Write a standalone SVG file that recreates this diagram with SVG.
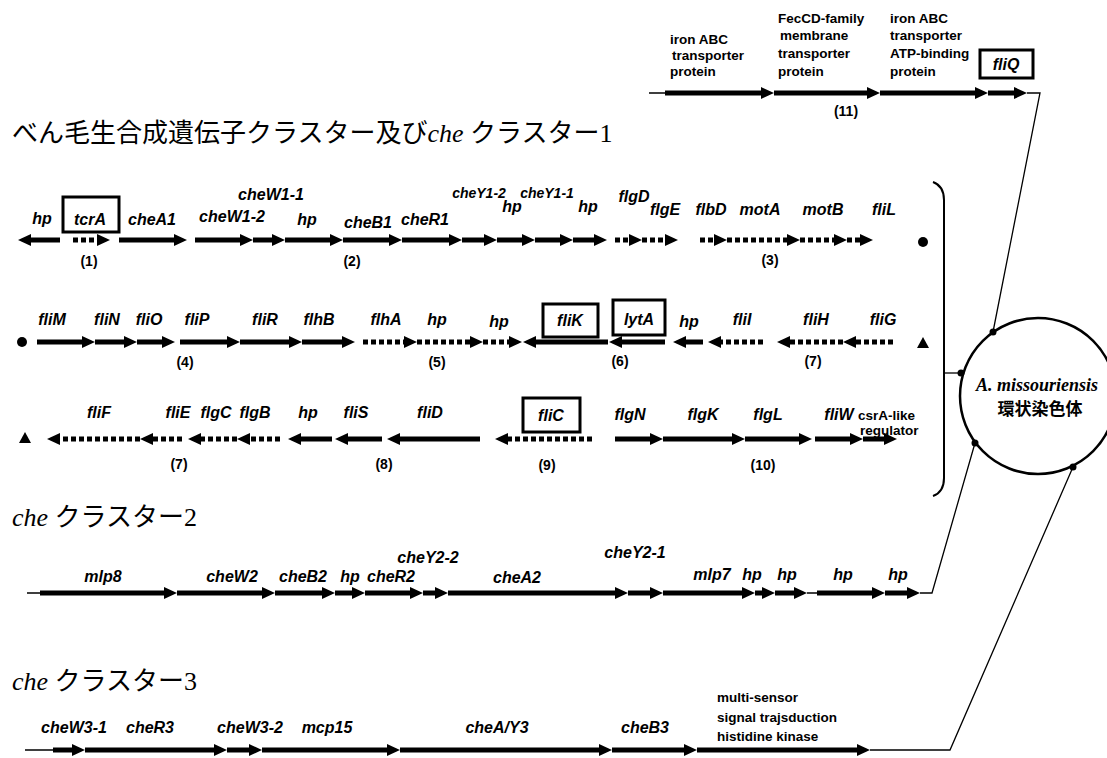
<svg xmlns="http://www.w3.org/2000/svg" width="1107" height="758" viewBox="0 0 1107 758">
<defs>
<marker id="h" markerUnits="userSpaceOnUse" markerWidth="13" markerHeight="12" refX="5" refY="6" orient="auto"><path d="M0,0 L13,6 L0,12 z" fill="#000"/></marker>
<style>
.s{stroke:#000;stroke-width:5;fill:none;marker-end:url(#h)}
.d{stroke-dasharray:5 3}
.t{stroke:#000;stroke-width:1.3;fill:none}
.c{stroke:#000;stroke-width:1.3;fill:none}
.g{font-family:"Liberation Sans",Arial,sans-serif;font-weight:bold;font-style:italic;font-size:16px;text-anchor:middle;fill:#000}
.sm{font-size:14px}
.n{font-family:"Liberation Sans",Arial,sans-serif;font-weight:bold;font-size:14px;text-anchor:middle;fill:#000}
.p{font-family:"Liberation Sans",Arial,sans-serif;font-weight:bold;font-size:13.5px;fill:#000}
.box{fill:#fff;stroke:#000;stroke-width:3}
.ti{font-family:"Liberation Serif","Noto Sans CJK JP",serif;font-size:26px;fill:#000}
.dot{fill:#000}
</style>
</defs>
<rect width="1107" height="758" fill="#fff"/>

<g id="titles">
<text class="ti" x="12" y="142">べん毛生合成遺伝子クラスター及び<tspan font-style="italic">che</tspan> クラスター1</text>
<text class="ti" x="12" y="526"><tspan font-style="italic">che</tspan> クラスター2</text>
<text class="ti" x="12" y="690"><tspan font-style="italic">che</tspan> クラスター3</text>
</g>

<g id="connectors">
<path class="t" d="M649,93 H665 M1027,93 H1040 L993,332"/>
<path d="M933,182 Q944,186 944,200 V478 Q944,492 933,496" fill="none" stroke="#000" stroke-width="2"/>
<path class="c" d="M944,373 H961"/>
<path class="t" d="M27,593 H40 M807,593 H817 M920,593 H932 L975,443"/>
<path class="t" d="M25,750 H53 M870,750 H950 L1073,467"/>
<circle class="dot" cx="993" cy="332" r="3.5"/>
<circle class="dot" cx="961" cy="373" r="3.5"/>
<circle class="dot" cx="975" cy="443" r="3.5"/>
<circle class="dot" cx="1073" cy="467" r="3.5"/>
</g>

<g id="chromosome">
<circle cx="1038" cy="396" r="78" fill="none" stroke="#000" stroke-width="2.5"/>
<text x="1037" y="391" font-family="Liberation Serif,serif" font-weight="bold" font-style="italic" font-size="18" text-anchor="middle">A. missouriensis</text>
<text x="1040" y="415" font-family="Noto Sans CJK JP,sans-serif" font-weight="bold" font-size="17" text-anchor="middle">環状染色体</text>
</g>

<g id="cluster11">
<g id="gene-ironABC1"><path class="s" d="M665,93 H766"/>
<text class="p" x="670" y="44">iron ABC</text><text class="p" x="672" y="60">transporter</text><text class="p" x="670" y="76">protein</text></g>
<g id="gene-fecCD"><path class="s" d="M774,93 H872"/>
<text class="p" x="778" y="23">FecCD-family</text><text class="p" x="780" y="40">membrane</text><text class="p" x="778" y="58">transporter</text><text class="p" x="778" y="76">protein</text></g>
<g id="gene-ironABC2"><path class="s" d="M880,93 H980"/>
<text class="p" x="890" y="23">iron ABC</text><text class="p" x="890" y="40">transporter</text><text class="p" x="890" y="58">ATP-binding</text><text class="p" x="890" y="76">protein</text></g>
<g id="gene-fliQ"><path class="s" d="M988,93 H1019"/><rect class="box" x="980" y="50" width="53" height="28"/><text class="g" x="1006" y="70">fliQ</text></g>
<text class="n" x="846" y="116">(11)</text>
</g>

<g id="row1">
<g id="gene-hp1"><path class="s" d="M60,240 H26"/><text class="g" x="42" y="224">hp</text></g>
<g id="gene-tcrA"><path class="s d" d="M73,240 H102"/><rect class="box" x="63" y="197" width="56" height="35"/><text class="g" x="90" y="225">tcrA</text></g>
<g id="gene-cheA1"><path class="s" d="M119,240 H179"/><text class="g" x="152" y="225">cheA1</text></g>
<g id="gene-cheW1-2"><path class="s" d="M195,240 H245"/><text class="g" x="232" y="222">cheW1-2</text></g>
<g id="gene-cheW1-1"><path class="s" d="M253,240 H277"/><text class="g" x="271" y="200">cheW1-1</text></g>
<g id="gene-hp2"><path class="s" d="M285,240 H335"/><text class="g" x="307" y="225">hp</text></g>
<g id="gene-cheB1"><path class="s" d="M343,240 H394"/><text class="g" x="368" y="228">cheB1</text></g>
<g id="gene-cheR1"><path class="s" d="M402,240 H454"/><text class="g" x="425" y="225">cheR1</text></g>
<g id="gene-cheY1-2"><path class="s" d="M462,240 H489"/><text class="g sm" x="479" y="198">cheY1-2</text></g>
<g id="gene-hp3"><path class="s" d="M497,240 H527"/><text class="g" x="512" y="212">hp</text></g>
<g id="gene-cheY1-1"><path class="s" d="M535,240 H565"/><text class="g sm" x="547" y="198">cheY1-1</text></g>
<g id="gene-hp4"><path class="s" d="M573,240 H599"/><text class="g" x="588" y="212">hp</text></g>
<g id="gene-flgD"><path class="s d" d="M615,240 H634"/><text class="g" x="634" y="202">flgD</text></g>
<g id="gene-flgE"><path class="s d" d="M642,240 H670"/><text class="g" x="665" y="215">flgE</text></g>
<g id="gene-flbD"><path class="s d" d="M700,240 H719"/><text class="g" x="711" y="215">flbD</text></g>
<g id="gene-motA"><path class="s d" d="M727,240 H792"/><text class="g" x="760" y="215">motA</text></g>
<g id="gene-motB"><path class="s d" d="M800,240 H839"/><text class="g" x="823" y="215">motB</text></g>
<g id="gene-fliL"><path class="s d" d="M847,240 H865"/><text class="g" x="884" y="215">fliL</text></g>
<circle class="dot" cx="923" cy="242" r="5"/>
<text class="n" x="89" y="266">(1)</text><text class="n" x="352" y="266">(2)</text><text class="n" x="770" y="265">(3)</text>
</g>

<g id="row2">
<circle class="dot" cx="22" cy="342" r="5"/>
<g id="gene-fliM"><path class="s" d="M37,342 H87"/><text class="g" x="52" y="325">fliM</text></g>
<g id="gene-fliN"><path class="s" d="M95,342 H129"/><text class="g" x="107" y="325">fliN</text></g>
<g id="gene-fliO"><path class="s" d="M137,342 H167"/><text class="g" x="149" y="325">fliO</text></g>
<g id="gene-fliP"><path class="s" d="M180,342 H232"/><text class="g" x="197" y="325">fliP</text></g>
<g id="gene-fliR"><path class="s" d="M240,342 H294"/><text class="g" x="265" y="325">fliR</text></g>
<g id="gene-flhB"><path class="s" d="M302,342 H347"/><text class="g" x="319" y="325">flhB</text></g>
<g id="gene-flhA"><path class="s d" d="M363,342 H409"/><text class="g" x="386" y="325">flhA</text></g>
<g id="gene-hp5"><path class="s d" d="M417,342 H475"/><text class="g" x="437" y="325">hp</text></g>
<g id="gene-hp6"><path class="s d" d="M483,342 H514"/><text class="g" x="499" y="327">hp</text></g>
<g id="gene-fliK"><path class="s" d="M608,342 H531"/><rect class="box" x="543" y="304" width="55" height="33"/><text class="g" x="570" y="326">fliK</text></g>
<g id="gene-lytA"><path class="s" d="M665,342 H617"/><rect class="box" x="613" y="300" width="52" height="35"/><text class="g" x="639" y="325">lytA</text></g>
<g id="gene-hp7"><path class="s" d="M703,342 H681"/><text class="g" x="689" y="327">hp</text></g>
<g id="gene-fliI"><path class="s d" d="M763,342 H716"/><text class="g" x="742" y="325">fliI</text></g>
<g id="gene-fliH"><path class="s d" d="M843,342 H785"/><text class="g" x="816" y="325">fliH</text></g>
<g id="gene-fliG"><path class="s d" d="M893,342 H851"/><text class="g" x="883" y="325">fliG</text></g>
<polygon class="dot" points="917,348 923,337 929,348"/>
<text class="n" x="185" y="367">(4)</text><text class="n" x="437" y="367">(5)</text><text class="n" x="620" y="366">(6)</text><text class="n" x="813" y="366">(7)</text>
</g>

<g id="row3">
<polygon class="dot" points="19,443 25,432 31,443"/>
<g id="gene-fliF"><path class="s d" d="M140,439 H55"/><text class="g" x="99" y="418">fliF</text></g>
<g id="gene-fliE"><path class="s d" d="M182,439 H148"/><text class="g" x="178" y="418">fliE</text></g>
<g id="gene-flgC"><path class="s d" d="M237,439 H196"/><text class="g" x="216" y="418">flgC</text></g>
<g id="gene-flgB"><path class="s d" d="M280,439 H245"/><text class="g" x="255" y="418">flgB</text></g>
<g id="gene-hp8"><path class="s" d="M332,439 H296"/><text class="g" x="308" y="418">hp</text></g>
<g id="gene-fliS"><path class="s" d="M382,439 H343"/><text class="g" x="356" y="418">fliS</text></g>
<g id="gene-fliD"><path class="s" d="M480,439 H395"/><text class="g" x="430" y="418">fliD</text></g>
<g id="gene-fliC"><path class="s d" d="M592,439 H503"/><rect class="box" x="523" y="398" width="57" height="34"/><text class="g" x="551" y="421">fliC</text></g>
<g id="gene-flgN"><path class="s" d="M615,439 H655"/><text class="g" x="630" y="420">flgN</text></g>
<g id="gene-flgK"><path class="s" d="M663,439 H737"/><text class="g" x="703" y="420">flgK</text></g>
<g id="gene-flgL"><path class="s" d="M745,439 H804"/><text class="g" x="768" y="420">flgL</text></g>
<g id="gene-fliW"><path class="s" d="M815,439 H855"/><text class="g" x="839" y="420">fliW</text></g>
<g id="gene-csrA"><path class="s" d="M863,439 H889"/><text class="p" x="858" y="420">csrA-like</text><text class="p" x="860" y="435">regulator</text></g>
<text class="n" x="179" y="469">(7)</text><text class="n" x="384" y="469">(8)</text><text class="n" x="547" y="470">(9)</text><text class="n" x="763" y="470">(10)</text>
</g>

<g id="che2">
<g id="gene-mlp8"><path class="s" d="M40,593 H169"/><text class="g" x="103" y="582">mlp8</text></g>
<g id="gene-cheW2"><path class="s" d="M177,593 H267"/><text class="g" x="232" y="582">cheW2</text></g>
<g id="gene-cheB2"><path class="s" d="M275,593 H327"/><text class="g" x="303" y="582">cheB2</text></g>
<g id="gene-hp9"><path class="s" d="M335,593 H357"/><text class="g" x="350" y="582">hp</text></g>
<g id="gene-cheR2"><path class="s" d="M365,593 H415"/><text class="g" x="391" y="582">cheR2</text></g>
<g id="gene-cheY2-2"><path class="s" d="M423,593 H440"/><text class="g" x="428" y="563">cheY2-2</text></g>
<g id="gene-cheA2"><path class="s" d="M448,593 H620"/><text class="g" x="517" y="583">cheA2</text></g>
<g id="gene-cheY2-1"><path class="s" d="M628,593 H655"/><text class="g" x="635" y="558">cheY2-1</text></g>
<g id="gene-mlp7"><path class="s" d="M663,593 H747"/><text class="g" x="712" y="580">mlp7</text></g>
<g id="gene-hp10"><path class="s" d="M755,593 H767"/><text class="g" x="752" y="580">hp</text></g>
<g id="gene-hp11"><path class="s" d="M775,593 H799"/><text class="g" x="787" y="580">hp</text></g>
<g id="gene-hp12"><path class="s" d="M817,593 H877"/><text class="g" x="843" y="580">hp</text></g>
<g id="gene-hp13"><path class="s" d="M885,593 H912"/><text class="g" x="898" y="580">hp</text></g>
</g>

<g id="che3">
<g id="gene-cheW3-1"><path class="s" d="M53,750 H77"/><text class="g" x="74" y="733">cheW3-1</text></g>
<g id="gene-cheR3"><path class="s" d="M85,750 H219"/><text class="g" x="150" y="733">cheR3</text></g>
<g id="gene-cheW3-2"><path class="s" d="M227,750 H254"/><text class="g" x="250" y="733">cheW3-2</text></g>
<g id="gene-mcp15"><path class="s" d="M262,750 H392"/><text class="g" x="327" y="733">mcp15</text></g>
<g id="gene-cheAY3"><path class="s" d="M400,750 H604"/><text class="g" x="497" y="733">cheA/Y3</text></g>
<g id="gene-cheB3"><path class="s" d="M612,750 H689"/><text class="g" x="645" y="733">cheB3</text></g>
<g id="gene-hk"><path class="s" d="M697,750 H862"/><text class="p" x="717" y="702">multi-sensor</text><text class="p" x="717" y="722">signal trajsduction</text><text class="p" x="717" y="741">histidine kinase</text></g>
</g>
</svg>
